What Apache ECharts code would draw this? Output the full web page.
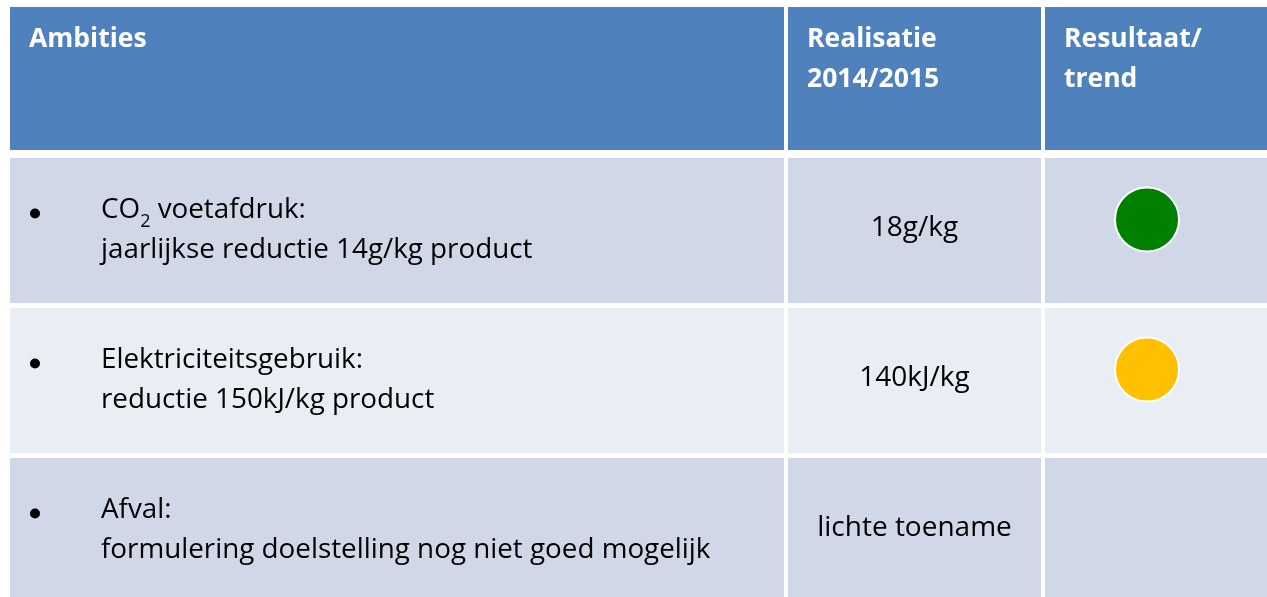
<!DOCTYPE html>
<html lang="nl">
<head>
<meta charset="UTF-8">
<title>Ambities</title>
<script src="https://cdn.jsdelivr.net/npm/echarts@6/dist/echarts.min.js"></script>
<style>
    html, body { margin: 0; padding: 0; background: #fff; }
    #main { width: 1267px; height: 597px; }
</style>
</head>
<body>
<div id="main"></div>
<script>
// table contents
var rows = ['header', 'co2', 'elektriciteit', 'afval'];
var headers = ['Ambities', 'Realisatie\n2014/2015', 'Resultaat/\ntrend'];
var ambitionTitles = ['CO{sub|2} voetafdruk:', 'Elektriciteitsgebruik:', 'Afval:'];
var ambitionTargets = ['jaarlijkse reductie 14g/kg product', 'reductie 150kJ/kg product', 'formulering doelstelling nog niet goed mogelijk'];
var realisations = ['18g/kg', '140kJ/kg', 'lichte toename'];
var trendStatus = ['groen', 'oranje', ''];
var statusColors = { groen: '#008000', oranje: '#FFC000' };

// column boundaries on the x axis
var colStart = [0, 778, 1035];
var colEnd = [774, 1031, 1300];

var FONT = '"Open Sans", Lato, sans-serif';

var cells = [];
for (var r = 0; r < rows.length; r++) {
    for (var c = 0; c < 3; c++) {
        cells.push([c, r]);
    }
}

function renderCell(params, api) {
    var c = api.value(0), r = api.value(1);
    var h = api.size([0, 1])[1];
    var mid = api.coord([0, r])[1];
    var bandTop = mid - h / 2;
    var x0 = api.coord([colStart[c], r])[0];
    var x1 = api.coord([colEnd[c], r])[0];
    var top = bandTop + (r === 0 ? 0 : 1);
    var bottom = bandTop + h - (r === 0 ? 7 : 4);
    var cy = (top + bottom) / 2;
    var fill = r === 0 ? '#4F81BD' : (r % 2 === 1 ? '#D0D8E8' : '#E9EDF4');
    var children = [{
        type: 'rect',
        shape: { x: x0, y: top, width: x1 - x0, height: bottom - top },
        style: { fill: fill }
    }];
    if (r === 0) {
        children.push({
            type: 'text', x: x0 + 19, y: top + 12,
            style: {
                text: headers[c], fill: '#fff', fontFamily: FONT, fontWeight: 'bold',
                fontSize: 26.5, lineHeight: 40, align: 'left', verticalAlign: 'top'
            }
        });
    } else if (c === 0) {
        // bullet
        children.push({
            type: 'circle',
            shape: { cx: x0 + 25, cy: cy - 17, r: 5 },
            style: { fill: '#000' }
        });
        children.push({
            type: 'text', x: x0 + 91, y: cy,
            style: {
                text: ambitionTitles[r - 1] + '\n' + ambitionTargets[r - 1],
                fill: '#000', fontFamily: FONT, fontSize: 27.8, lineHeight: 40,
                align: 'left', verticalAlign: 'middle',
                rich: {
                    sub: { fontFamily: FONT, fontSize: 18, fill: '#000', verticalAlign: 'bottom', lineHeight: 24 }
                }
            }
        });
    } else if (c === 1) {
        children.push({
            type: 'text', x: (x0 + x1) / 2, y: cy - 2,
            style: {
                text: realisations[r - 1], fill: '#000', fontFamily: FONT, fontSize: 28,
                align: 'center', verticalAlign: 'middle'
            }
        });
    } else if (trendStatus[r - 1]) {
        children.push({
            type: 'circle',
            shape: { cx: x0 + 102, cy: cy - 11, r: 32 },
            style: { fill: statusColors[trendStatus[r - 1]], stroke: '#fff', lineWidth: 2 }
        });
    }
    return { type: 'group', children: children };
}

var chart = echarts.init(document.getElementById('main'));
chart.setOption({
    animation: false,
    grid: { left: 10, top: 7, width: 1300, height: 600, outerBoundsMode: 'none', containLabel: false },
    xAxis: { type: 'value', min: 0, max: 1300, show: false },
    yAxis: { type: 'category', data: rows, inverse: true, show: false },
    series: [{
        type: 'custom',
        renderItem: renderCell,
        data: cells,
        silent: true
    }]
});
</script>
</body>
</html>
